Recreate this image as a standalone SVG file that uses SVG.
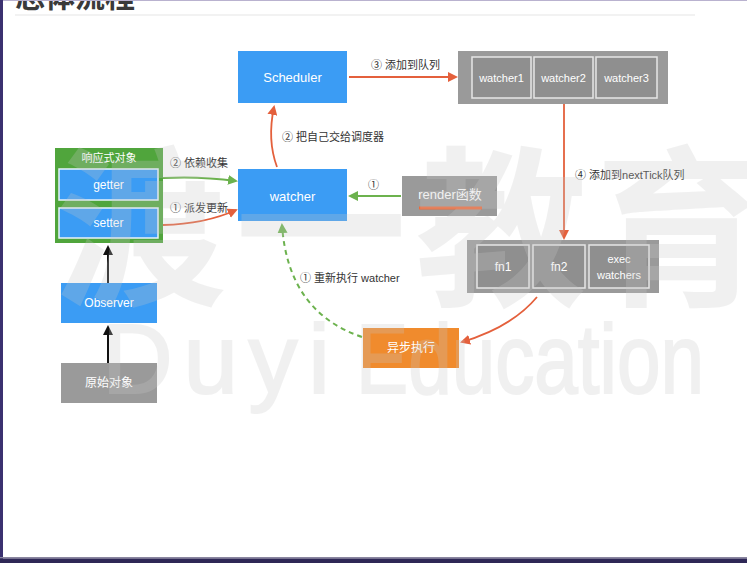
<svg xmlns="http://www.w3.org/2000/svg" width="747" height="563" viewBox="0 0 747 563">
<style>
.blue{fill:#3b9cf4}
.gray{fill:#9a9a9a}
.inner{fill:#8f8f8f;stroke:#e6e6e6;stroke-width:1.5}
.nl{font-family:"Liberation Sans","Noto Sans CJK SC",sans-serif;fill:#fff;text-anchor:middle;dominant-baseline:central}
.al{font-family:"Liberation Sans","Noto Sans CJK SC",sans-serif;fill:#333;font-size:11px}
.red{fill:none;stroke:#e4603c;stroke-width:1.8}
.grn{fill:none;stroke:#6cb24e;stroke-width:2}
.blk{fill:none;stroke:#111;stroke-width:2}
.wm{font-family:"Noto Sans CJK SC","Liberation Sans",sans-serif;fill:#c8c8c8;opacity:0.26;font-weight:bold}
.wme{font-family:"Liberation Sans",sans-serif;fill:#c8c8c8;opacity:0.26;font-size:98px;stroke:#c8c8c8;stroke-width:2}
</style>
<defs>
<marker id="mr" markerWidth="10" markerHeight="10" refX="8" refY="5" orient="auto" markerUnits="userSpaceOnUse"><path d="M0,0 L10,5 L0,10 Z" fill="#e4603c"/></marker>
<marker id="mg" markerWidth="10" markerHeight="10" refX="8" refY="5" orient="auto" markerUnits="userSpaceOnUse"><path d="M0,0 L10,5 L0,10 Z" fill="#6cb24e"/></marker>
<marker id="mb" markerWidth="10" markerHeight="10" refX="8" refY="5" orient="auto" markerUnits="userSpaceOnUse"><path d="M0,0 L10,5 L0,10 Z" fill="#111"/></marker>
</defs>
<rect width="747" height="563" fill="#fff"/>
<text x="15" y="7" font-family="Noto Sans CJK SC,sans-serif" font-weight="bold" font-size="30" fill="#3a3a3a">总体流程</text>
<line x1="15" y1="15" x2="695" y2="15" stroke="#eeeeee" stroke-width="1.5"/>

<g id="reactive">
<rect x="55" y="148" width="108" height="95" fill="#50a53c"/>
<text class="nl" x="109" y="158" font-size="11">响应式对象</text>
</g>
<g id="getter"><rect x="59" y="169" width="99" height="31" class="blue" stroke="#e8f2fb" stroke-width="1.5"/><text class="nl" x="108.5" y="185" font-size="12">getter</text></g>
<g id="setter"><rect x="59" y="208" width="99" height="30" class="blue" stroke="#e8f2fb" stroke-width="1.5"/><text class="nl" x="108.5" y="223" font-size="12">setter</text></g>
<g id="observer"><rect x="61" y="283" width="96" height="40" class="blue"/><text class="nl" x="109" y="303" font-size="12">Observer</text></g>
<g id="raw"><rect x="61" y="363" width="96" height="40" class="gray"/><text class="nl" x="109" y="383" font-size="12">原始对象</text></g>
<g id="scheduler"><rect x="238" y="51" width="109" height="52" class="blue"/><text class="nl" x="292.5" y="77" font-size="13">Scheduler</text></g>
<g id="watcher"><rect x="238" y="169" width="109" height="52" class="blue"/><text class="nl" x="292.5" y="196" font-size="13">watcher</text></g>
<g id="render"><rect x="402" y="176" width="95" height="40" class="gray"/><text class="nl" x="450" y="194" font-size="13" fill="#f2f2f2">render函数</text><line x1="419" y1="208" x2="482" y2="208" stroke="#ee6a3a" stroke-width="3"/></g>
<g id="queue">
<rect x="458" y="51" width="210" height="53" class="gray"/>
<rect x="472" y="57" width="59" height="41" class="inner"/><text class="nl" x="501.5" y="77.5" font-size="11">watcher1</text>
<rect x="534" y="57" width="59" height="41" class="inner"/><text class="nl" x="563.5" y="77.5" font-size="11">watcher2</text>
<rect x="596" y="57" width="61" height="41" class="inner"/><text class="nl" x="626.5" y="77.5" font-size="11">watcher3</text>
</g>
<g id="ticks">
<rect x="467" y="240" width="192" height="53" class="gray"/>
<rect x="477" y="245" width="52" height="43" class="inner"/><text class="nl" x="503" y="267" font-size="12">fn1</text>
<rect x="533" y="245" width="52" height="43" class="inner"/><text class="nl" x="559" y="267" font-size="12">fn2</text>
<rect x="589" y="245" width="60" height="43" class="inner"/><text class="nl" x="619" y="259" font-size="11">exec</text><text class="nl" x="619" y="275" font-size="11">watchers</text>
</g>
<g id="async"><rect x="363" y="328" width="96" height="40" fill="#f08b2d"/><text class="nl" x="411" y="348" font-size="12">异步执行</text></g>

<g id="connectors">
<path class="blk" d="M108,363 L108,327" marker-end="url(#mb)"/>
<path class="blk" d="M108,283 L108,247" marker-end="url(#mb)"/>
<path class="grn" d="M163,178 Q200,176 236,181" marker-end="url(#mg)"/>
<path class="red" d="M163,225 Q205,224 236,210" marker-end="url(#mr)"/>
<path class="red" d="M277,167 Q267,140 274,107" marker-end="url(#mr)"/>
<path class="red" d="M349,77 L456,77" marker-end="url(#mr)"/>
<path class="red" d="M564,104 L564,238" marker-end="url(#mr)"/>
<path class="grn" d="M401,196 L350,196" marker-end="url(#mg)"/>
<path class="red" d="M537,297 Q512,327 462,342" marker-end="url(#mr)"/>
<path class="grn" d="M362,337 Q288,312 282,225" stroke-dasharray="5,4" marker-end="url(#mg)"/>
<text class="al" x="170" y="167">② 依赖收集</text>
<text class="al" x="170" y="212">① 派发更新</text>
<text class="al" x="282" y="141">② 把自己交给调度器</text>
<text class="al" x="371" y="69">③ 添加到队列</text>
<text class="al" x="368" y="189" font-size="13">①</text>
<text class="al" x="575" y="179" font-size="10.5">④ 添加到nextTick队列</text>
<text class="al" x="300" y="282">① 重新执行 watcher</text>
</g>

<text class="wm" x="55" y="292" font-size="172" letter-spacing="8">渡一教育</text>
<text class="wme" x="102" y="393" textLength="228" lengthAdjust="spacing">Duyi</text>
<text class="wme" x="356" y="393" textLength="348" lengthAdjust="spacingAndGlyphs">Education</text>

<rect x="0" y="0" width="747" height="1" fill="#b9b2cf"/>
<rect x="0" y="0" width="3" height="563" fill="#3b3170"/>
<rect x="0" y="557" width="747" height="1.5" fill="#8a86a0"/>
<rect x="0" y="558.5" width="747" height="4.5" fill="#2e2756"/>
</svg>
